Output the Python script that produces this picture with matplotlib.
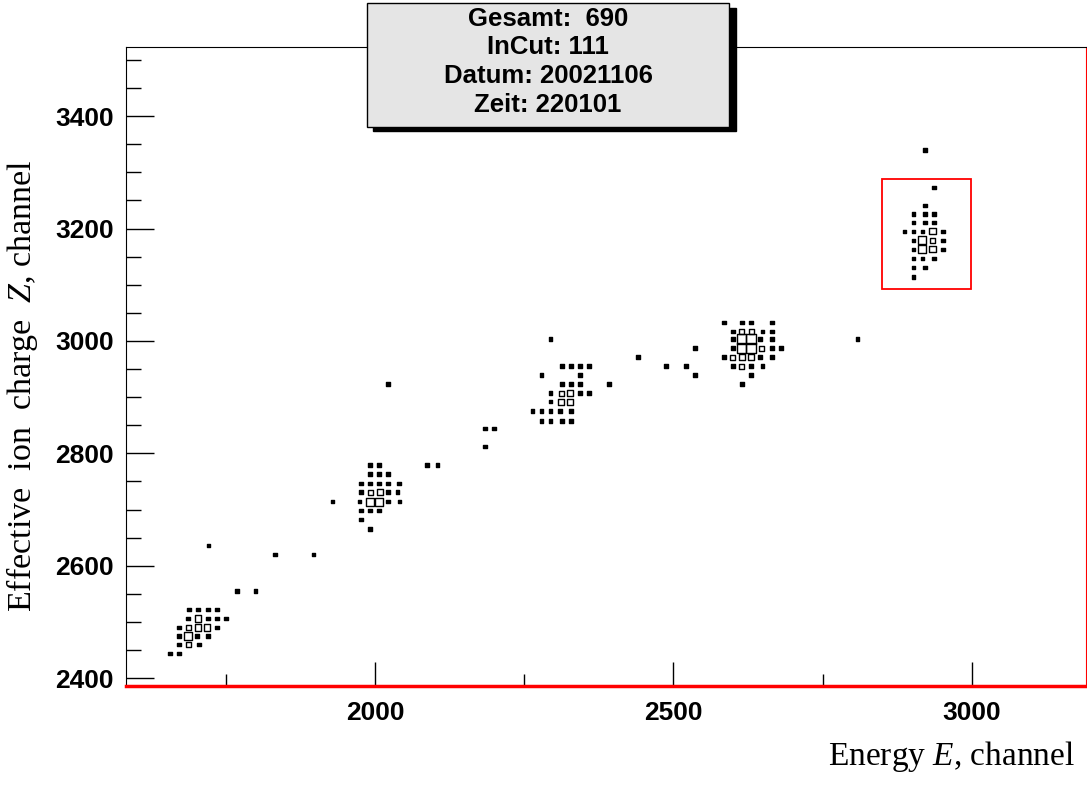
import matplotlib
matplotlib.use("Agg")
import matplotlib.pyplot as plt
from matplotlib.patches import Rectangle
from matplotlib.ticker import MultipleLocator

plt.rcParams['mathtext.fontset'] = 'custom'
plt.rcParams['mathtext.rm'] = 'Liberation Serif'
plt.rcParams['mathtext.it'] = 'Liberation Serif:italic'

# bins of the 2D histogram: energy, charge, content
energy = [
    # group 1
    1689, 1704, 1720, 1735,
    1687, 1704, 1720, 1735, 1751,
    1672, 1687, 1704, 1719, 1735,
    1672, 1687, 1702, 1720,
    1672, 1687, 1705,
    1657, 1672,
    1721, 1833, 1897, 1769, 1800,
    # group 2
    1992, 2007, 2087, 2105,
    1992, 2007, 2022,
    1977, 1992, 2007, 2022, 2040,
    1977, 1992, 2008, 2022, 2038,
    1929, 1974, 1992, 2007, 2022, 2041,
    1977, 1992, 2007,
    1977, 1992, 2022,
    # group 3
    2294, 2441, 2487, 2521,
    2313, 2328, 2343, 2359,
    2279, 2343,
    2313, 2328, 2343, 2392,
    2294, 2312, 2327, 2343, 2359,
    2294, 2312, 2327,
    2264, 2279, 2294, 2310, 2328,
    2279, 2294, 2313, 2328,
    2184, 2199, 2184,
    # group 4
    2585, 2615, 2630, 2665,
    2600, 2614, 2630, 2649, 2665,
    2600, 2614, 2630, 2645, 2665,
    2536, 2600, 2614, 2630, 2647, 2665, 2680,
    2585, 2599, 2615, 2630, 2645, 2665,
    2600, 2614, 2630, 2649,
    2536, 2630, 2615, 2808,
    # group 5
    2936, 2921,
    2902, 2921, 2936,
    2902, 2921, 2936,
    2887, 2902, 2917, 2934, 2951,
    2902, 2917, 2934, 2951,
    2902, 2917, 2934, 2951,
    2902, 2917, 2936,
    2902, 2921,
    2902, 2921,
]
charge = [
    2522, 2522, 2522, 2522,
    2506, 2506, 2506, 2506, 2506,
    2490, 2490, 2490, 2490, 2490,
    2475, 2475, 2475, 2475,
    2460, 2460, 2460,
    2444, 2444,
    2636, 2620, 2620, 2555, 2555,
    2779, 2779, 2779, 2779,
    2763, 2763, 2763,
    2746, 2746, 2746, 2746, 2746,
    2731, 2731, 2731, 2731, 2731,
    2714, 2714, 2714, 2714, 2714, 2714,
    2698, 2698, 2698,
    2682, 2665, 2923,
    3003, 2971, 2955, 2955,
    2955, 2955, 2955, 2955,
    2939, 2939,
    2923, 2923, 2923, 2923,
    2907, 2907, 2907, 2907, 2907,
    2892, 2892, 2892,
    2875, 2875, 2875, 2875, 2875,
    2858, 2858, 2858, 2858,
    2844, 2844, 2812,
    3033, 3033, 3033, 3033,
    3017, 3017, 3017, 3017, 3017,
    3003, 3003, 3003, 3003, 3003,
    2987, 2987, 2987, 2987, 2987, 2987, 2987,
    2971, 2971, 2971, 2971, 2971, 2971,
    2955, 2955, 2955, 2955,
    2939, 2939, 2923, 3003,
    3273, 3241,
    3226, 3226, 3226,
    3211, 3211, 3211,
    3195, 3195, 3195, 3195, 3195,
    3179, 3179, 3179, 3179,
    3163, 3163, 3163, 3163,
    3147, 3147, 3147,
    3131, 3131,
    3114, 3340,
]
content = [
    1, 1, 1, 1,
    1, 3, 1, 1, 1,
    1, 2, 3, 3, 1,
    1, 4, 1, 1,
    1, 2, 1,
    1, 1,
    1, 1, 1, 1, 1,
    1, 1, 1, 1,
    1, 1, 1,
    1, 1, 1, 1, 1,
    1, 2, 3, 1, 1,
    1, 1, 5, 5, 1, 1,
    1, 1, 1,
    1, 1, 1,
    1, 1, 1, 1,
    1, 1, 1, 1,
    1, 1,
    1, 1, 1, 1,
    1, 2, 3, 1, 1,
    1, 3, 3,
    1, 1, 1, 1, 1,
    1, 1, 1, 1,
    1, 1, 1,
    1, 1, 1, 1,
    1, 2, 2, 1, 1,
    1, 7, 7, 1, 1,
    1, 1, 7, 7, 2, 1, 1,
    1, 2, 3, 3, 1, 1,
    1, 2, 1, 1,
    1, 1, 1, 1,
    1, 1,
    1, 1, 1,
    1, 1, 1,
    1, 1, 1, 3, 1,
    1, 5, 2, 1,
    1, 5, 3, 1,
    1, 1, 1,
    1, 1,
    1, 1,
]

cut_e = [2849, 2998]
cut_z = [3093, 3288]

stats = ["Gesamt:  690", "InCut: 111", "Datum: 20021106", "Zeit: 220101"]

W, H = 1087, 785
fig = plt.figure(figsize=(W / 100, H / 100), dpi=100)
ax = fig.add_axes([126 / W, 1 - 686 / H, (1086 - 126) / W, (686 - 47) / H])

sizes = [(3.6 * c ** 0.5 * 0.72) ** 2 for c in content]
faces = ['k' if c == 1 else 'none' for c in content]
ax.scatter(energy, charge, s=sizes, marker='s', facecolors=faces,
           edgecolors='k', linewidths=1.0)

ax.add_patch(Rectangle((cut_e[0], cut_z[0]), cut_e[1] - cut_e[0], cut_z[1] - cut_z[0],
                       fill=False, edgecolor='red', lw=1.3))

ax.set_xlim(1583, 3191)
ax.set_ylim(2386, 3523)
ax.xaxis.set_major_locator(MultipleLocator(500))
ax.xaxis.set_minor_locator(MultipleLocator(250))
ax.yaxis.set_major_locator(MultipleLocator(200))
ax.yaxis.set_minor_locator(MultipleLocator(50))
ax.tick_params(axis='x', which='major', direction='in', length=17, width=1, pad=11)
ax.tick_params(axis='x', which='minor', direction='in', length=9, width=1)
ax.tick_params(axis='y', which='major', direction='in', length=20, width=1, pad=9)
ax.tick_params(axis='y', which='minor', direction='in', length=11, width=1)
for lab in ax.get_xticklabels() + ax.get_yticklabels():
    lab.set_fontfamily('Liberation Sans')
    lab.set_fontweight('bold')
    lab.set_fontsize(19)

ax.spines['right'].set_color('red')
ax.spines['bottom'].set_color('red')
ax.spines['bottom'].set_linewidth(2.5)
ax.axhline(2386, color='k', lw=0.8, clip_on=False)

fig.text(22 / W, 1 - 386 / H, "Effective  ion  charge  $Z$, channel", rotation=90,
         ha='center', va='center', family='Liberation Serif', fontsize=24.5)
fig.text(1075 / W, 1 - 757 / H, "Energy $E$, channel", ha='right', va='center',
         family='Liberation Serif', fontsize=24)

# stats box with shadow
fig.patches.append(Rectangle((373 / W, 1 - 131 / H), (736 - 373) / W, (131 - 8) / H,
                             transform=fig.transFigure, facecolor='k', edgecolor='k', zorder=5))
fig.patches.append(Rectangle((367 / W, 1 - 127 / H), (729 - 367) / W, (127 - 3) / H,
                             transform=fig.transFigure, facecolor='#e5e5e5', edgecolor='k',
                             lw=1, zorder=6))
for i, line in enumerate(stats):
    fig.text(548 / W, 1 - (19 + 28.5 * i) / H, line, ha='center', va='center',
             family='Liberation Sans', fontweight='bold', fontsize=18.5, zorder=7)

fig.savefig("out.png", dpi=100)
